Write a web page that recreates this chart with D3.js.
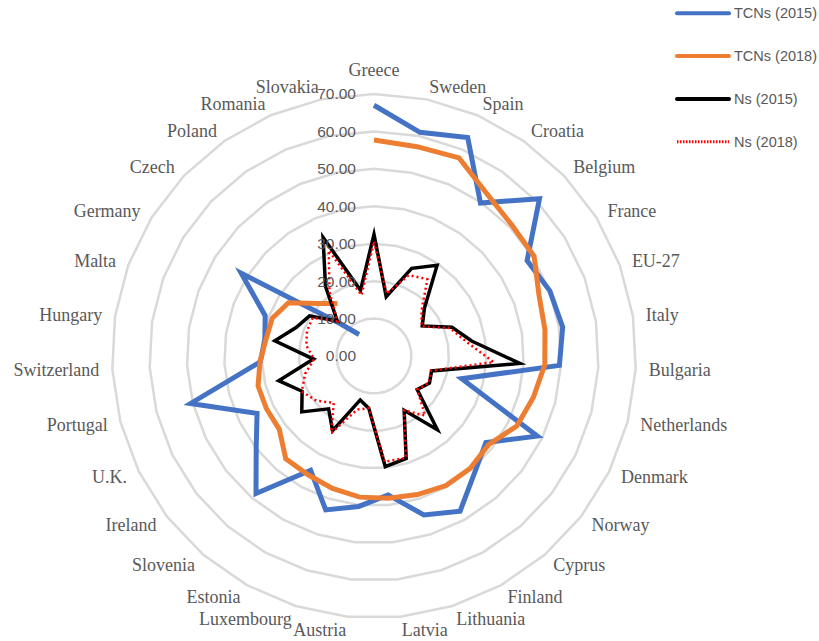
<!DOCTYPE html>
<html>
<head>
<meta charset="utf-8">
<script src="https://cdn.jsdelivr.net/npm/d3@7"></script>
<style>
  html, body { margin: 0; padding: 0; background: #fff; }
  svg { display: block; }
</style>
</head>
<body>
<svg id="chart" width="819" height="641"></svg>
<script>
// Categories in clockwise order, starting at 12 o'clock
const categories = ["Greece", "Sweden", "Spain", "Croatia", "Belgium", "France", "EU-27", "Italy",
  "Bulgaria", "Netherlands", "Denmark", "Norway", "Cyprus", "Finland", "Lithuania", "Latvia",
  "Austria", "Luxembourg", "Estonia", "Slovenia", "Ireland", "U.K.", "Portugal", "Switzerland",
  "Hungary", "Malta", "Germany", "Czech", "Poland", "Romania", "Slovakia"];

// Third-country nationals (no data for Romania and Slovakia)
const tcn2015 = [67, 61, 63.5, 49.8, 61, 48.2, 50.1, 51, 49.6, 24.2, 48.6, 37.8, 41.2, 47.4, 44.5, 37.3,
  40.4, 43.1, 34.9, 48.4, 39.8, 34.8, 50.6, 30.4, 29.5, 31, 41.8, 12.7, 7, null, null];
const tcn2018 = [57.7, 57.1, 57.6, 52.8, 50.8, 50.4, 47, 46.2, 45.7, 44, 42.5, 38.7, 39.5, 39.6, 38.8, 38.2,
  37.9, 37.1, 36.3, 36.2, 32, 32, 32, 30.5, 29.2, 29, 26.9, 20.4, 17.1, null, null];

// Nationals
const ns2015 = [32.5, 16.2, 25.5, 29.5, 18.6, 15.2, 22.2, 26.4, 39, 15.9, 16.5, 14.6, 26, 16.6, 28.7, 29.7,
  14, 12.3, 22.8, 18.6, 24.4, 21.4, 26.3, 16.2, 26.8, 22.1, 20.3, 13.5, 22.7, 34.5, 17.9];
const ns2018 = [30.5, 17, 23.5, 25, 17.5, 15, 21.6, 25, 32, 15.7, 16.3, 14.6, 21, 16.6, 28.5, 28.4,
  14, 15, 23.5, 16.5, 19.5, 21.5, 19, 16, 18.3, 19.1, 19.3, 13.5, 20.8, 30.7, 16.6];

const tickValues = [0, 10, 20, 30, 40, 50, 60, 70];
const seriesNames = ["TCNs (2015)", "TCNs (2018)", "Ns (2015)", "Ns (2018)"];

const svg = d3.select("#chart");
const cx = 374, cy = 356;
const g = svg.append("g").attr("transform", `translate(${cx},${cy})`);

const r = d3.scaleLinear().domain([0, 70]).range([0, 262]);
const angle = d3.scaleLinear().domain([0, categories.length]).range([0, 2 * Math.PI]);

// Polygonal grid rings
const ringLine = d3.lineRadial()
  .angle((d, i) => angle(i))
  .radius(d => r(d))
  .curve(d3.curveLinearClosed);

g.append("g").attr("class", "grid")
  .selectAll("path")
  .data(tickValues.filter(v => v > 0))
  .join("path")
  .attr("d", v => ringLine(categories.map(() => v)))
  .attr("fill", "none")
  .attr("stroke", "#d9d9d9")
  .attr("stroke-width", 2.5);

// Series
const seriesLine = (closed) => d3.lineRadial()
  .defined(d => d != null)
  .angle((d, i) => angle(i))
  .radius(d => r(d))
  .curve(closed ? d3.curveLinearClosed : d3.curveLinear);

const series = [
  { values: tcn2015, color: "#4472c4", width: 5, dash: null, closed: false },
  { values: tcn2018, color: "#ed7d31", width: 5, dash: null, closed: false },
  { values: ns2015, color: "#000000", width: 3.5, dash: null, closed: true },
  { values: ns2018, color: "#ff0000", width: 2.5, dash: "2 3", closed: true }
];

g.append("g").attr("class", "series")
  .selectAll("path")
  .data(series)
  .join("path")
  .attr("d", s => seriesLine(s.closed)(s.values))
  .attr("fill", "none")
  .attr("stroke", s => s.color)
  .attr("stroke-width", s => s.width)
  .attr("stroke-dasharray", s => s.dash)
  .attr("stroke-linejoin", "miter")
  .attr("stroke-miterlimit", 10);

// Radial value labels along the vertical axis
g.append("g").attr("class", "ticks")
  .selectAll("text")
  .data(tickValues)
  .join("text")
  .attr("x", -18)
  .attr("y", v => -r(v))
  .attr("dy", "0.35em")
  .attr("text-anchor", "end")
  .attr("font-family", "'Liberation Sans', Arial, sans-serif")
  .attr("font-size", 15.5)
  .attr("fill", "#595959")
  .text(v => d3.format(".2f")(v));

// Category labels around the outside
const labelR = 275;
g.append("g").attr("class", "categories")
  .selectAll("text")
  .data(categories)
  .join("text")
  .each(function (d, i) {
    const a = angle(i);
    const s = Math.sin(a), c = Math.cos(a);
    const centred = Math.abs(s) < 0.08;
    d3.select(this)
      .attr("x", labelR * s)
      .attr("y", -labelR * c - (centred ? 11 * c : 0))
      .attr("dy", "0.35em")
      .attr("text-anchor", centred ? "middle" : (s > 0 ? "start" : "end"));
  })
  .attr("font-family", "'Liberation Serif', 'Times New Roman', serif")
  .attr("font-size", 18)
  .attr("fill", "#595959")
  .text(d => d);

// Legend
const legend = svg.append("g").attr("class", "legend")
  .attr("transform", "translate(677,13.3)");
const items = legend.selectAll("g")
  .data(series.map((s, i) => ({ ...s, name: seriesNames[i] })))
  .join("g")
  .attr("transform", (d, i) => `translate(0,${i * 42.8})`);
items.append("line")
  .attr("x1", 0).attr("x2", 52).attr("y1", 0).attr("y2", 0)
  .attr("stroke", d => d.color)
  .attr("stroke-width", d => d.dash ? 3 : 4)
  .attr("stroke-dasharray", d => d.dash ? "1.5 1.5" : null)
  .attr("stroke-linecap", d => d.dash ? "butt" : "round");
items.append("text")
  .attr("x", 57).attr("y", 0).attr("dy", "0.35em")
  .attr("font-family", "'Liberation Sans', Arial, sans-serif")
  .attr("font-size", 14.5)
  .attr("fill", "#595959")
  .text(d => d.name);
</script>
</body>
</html>
